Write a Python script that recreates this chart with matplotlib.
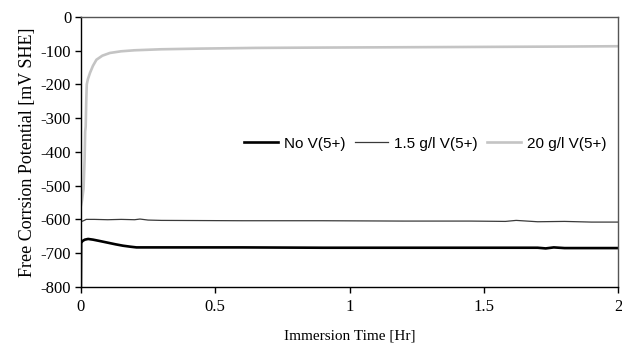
import numpy as np
import matplotlib
matplotlib.use("Agg")
import matplotlib.pyplot as plt

# --- data --------------------------------------------------------------
# No V(5+)
t_none = [0.0, 0.001, 0.006, 0.015, 0.027, 0.045, 0.07, 0.1, 0.13, 0.157, 0.185, 0.207,
          0.4, 0.6, 0.9, 1.2, 1.5, 1.7, 1.73, 1.76, 1.8, 2.0]
v_none = [-800, -670, -664, -660, -658, -660, -664, -669, -674, -678, -681, -683,
          -683, -683, -684, -684, -684, -684, -686, -683, -685, -685]

# 1.5 g/l V(5+)
t_low = [0.0, 0.003, 0.01, 0.02, 0.05, 0.1, 0.15, 0.2, 0.22, 0.25, 0.3, 0.6, 0.9,
         1.2, 1.45, 1.58, 1.62, 1.7, 1.8, 1.9, 2.0]
v_low = [-603, -606, -604, -600, -600, -601, -600, -601, -599, -602, -603, -604, -604,
         -605, -605, -606, -603, -607, -606, -608, -608]

# 20 g/l V(5+)
t_high = [0.0, 0.004, 0.01, 0.014, 0.016, 0.018, 0.02, 0.022, 0.026, 0.034, 0.045, 0.058,
          0.08, 0.108, 0.15, 0.2, 0.3, 0.45, 0.65, 0.9, 1.2, 1.5, 1.8, 2.0]
v_high = [-560, -545, -510, -420, -340, -325, -250, -200, -185, -166, -145, -127,
          -115, -107, -102, -99, -96, -94, -92, -91, -90, -89, -88, -87]

labels = ["No V(5+)", "1.5 g/l V(5+)", "20 g/l V(5+)"]

plt.rcParams["axes.unicode_minus"] = False

fig = plt.figure(figsize=(6.22, 3.44), dpi=100)
ax = fig.add_axes([0.130, 0.166, 0.864, 0.785])

ax.plot(t_none, v_none, color="black", lw=1.9, label=labels[0])
ax.plot(t_low, v_low, color="#3a3a3a", lw=0.9, label=labels[1])
ax.plot(t_high, v_high, color="#c4c4c4", lw=1.9, label=labels[2])

ax.set_xlim(0, 2)
ax.set_ylim(-800, 0)
ax.set_xticks([0, 0.5, 1, 1.5, 2])
ax.set_xticklabels(["0", "0.5", "1", "1.5", "2"])
ax.set_yticks(range(-800, 1, 100))

serif = "Liberation Serif"
for lab in ax.get_xticklabels() + ax.get_yticklabels():
    lab.set_fontfamily(serif)
    lab.set_fontsize(12)
ax.tick_params(direction="out", length=4, width=1, pad=3)
ax.tick_params(axis="x", pad=5)
for s in ax.spines.values():
    s.set_linewidth(1.0)
ax.spines["top"].set_color("#555555")
ax.spines["right"].set_color("#555555")

ax.set_xlabel("Immersion Time [Hr]", fontfamily=serif, fontsize=11, labelpad=10)
ax.set_ylabel("Free Corrsion Potential [mV SHE]", fontfamily=serif, fontsize=13, labelpad=3)

ax.legend(loc="center right", bbox_to_anchor=(0.995, 0.53), ncol=3, frameon=False,
          prop={"family": "Liberation Sans", "size": 11}, handlelength=2.2,
          columnspacing=0.6, handletextpad=0.4, borderpad=0.1)

fig.savefig("out.png", dpi=100)
